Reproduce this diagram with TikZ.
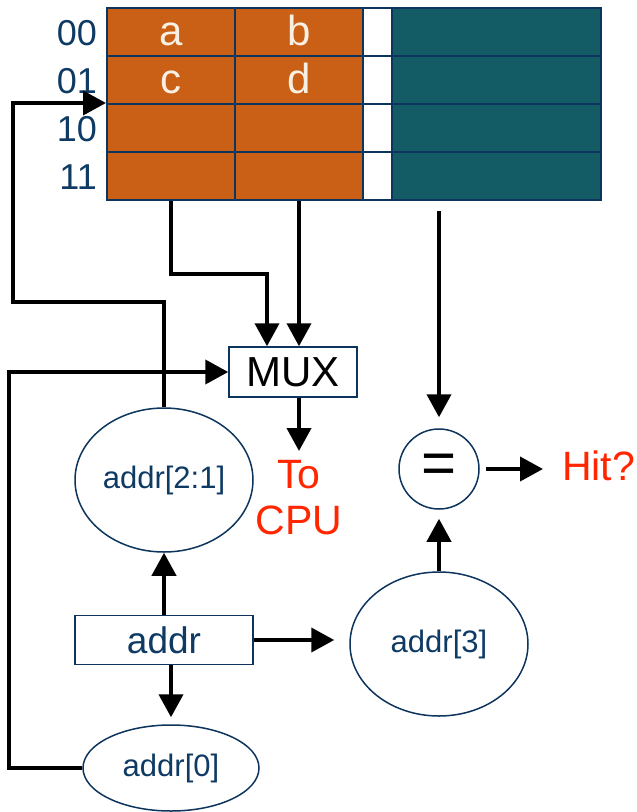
\documentclass[tikz,border=0pt]{standalone}
\usepackage{fontspec}
\setmainfont{Liberation Sans}
\usepackage{tikz}
\usetikzlibrary{shapes.geometric,arrows.meta,positioning,calc}
\definecolor{cacheorange}{RGB}{202,95,22}
\definecolor{cacheteal}{RGB}{19,92,102}
\definecolor{cachenavy}{RGB}{12,52,92}
\definecolor{cachetext}{RGB}{14,58,100}
\definecolor{cachecream}{RGB}{248,240,226}
\definecolor{cachered}{RGB}{255,38,0}

\begin{document}
\begin{tikzpicture}[x=1pt, y=-1pt,
  cell/.style={draw=cachenavy, line width=2pt, inner sep=0pt, minimum height=48pt,
    text=cachecream, font=\fontsize{42}{44}\selectfont, text height=26pt, text depth=0pt},
  rowlbl/.style={text=cachetext, inner sep=0pt, font=\fontsize{36}{40}\selectfont},
  ovalnode/.style={ellipse, draw=cachenavy, line width=1.5pt, inner sep=0pt,
    text=cachetext, font=\fontsize{31}{34}\selectfont},
  boxnode/.style={rectangle, draw=cachenavy, line width=1.5pt, inner sep=0pt},
  redtxt/.style={text=cachered, inner sep=0pt, font=\fontsize{41}{46}\selectfont},
  wire/.style={line width=4pt, -{Triangle[length=23pt,width=24pt]}}]
\useasboundingbox (0,0) rectangle (637,812);

% Cache table: two data columns, valid bit, tag
\foreach \r/\y/\p/\q in {1/32/a/b, 2/80/c/d, 3/128/{}/{}, 4/176/{}/{}} {
    \node[cell, fill=cacheorange, minimum width=128pt] (c-\r-1) at (171,\y) {\p};
    \node[cell, fill=cacheorange, minimum width=128pt] (c-\r-2) at (299,\y) {\q};
    \node[cell, fill=white, minimum width=29pt] (c-\r-3) at (377.5,\y) {};
    \node[cell, fill=cacheteal, minimum width=209pt] (c-\r-4) at (496.5,\y) {};
}

% Index labels
\foreach \r/\y/\t in {1/45/00, 2/93/01, 3/141/10, 4/189/11} {
    \node[rowlbl, anchor=base east] (lbl-\r) at (97,\y) {\t};
}

% Blocks
\node[boxnode, minimum width=128pt, minimum height=50pt, font=\fontsize{42}{44}\selectfont] (mux) at (293,372) {MUX};
\node[ovalnode, circle, minimum size=80pt, text=black, font=\fontsize{60}{60}\selectfont] (eq) at (439,469) {=};
\node[redtxt, anchor=west] (hit) at (562,466) {Hit?};
\node[redtxt, align=center, anchor=north] (cpu) at (299,460) {To\\CPU};
\node[ovalnode, minimum width=178pt, minimum height=144pt] (a21) at (164,480) {addr[2:1]};
\node[ovalnode, minimum width=178pt, minimum height=144pt] (a3) at (439,644) {addr[3]};
\node[ovalnode, minimum width=176pt, minimum height=86pt] (a0) at (171,768) {addr[0]};
\node[boxnode, minimum width=178pt, minimum height=49pt, text=cachetext, font=\fontsize{37}{40}\selectfont] (addr) at (164,640) {addr};

% Data words into the MUX
\draw[wire] (c-4-1.south) -- ++(0,73) -| ([xshift=-26pt]mux.north);
\draw[wire] (c-4-2.south) -- (c-4-2.south |- mux.north);
\draw[wire] (cpu.north |- mux.south) -- ([yshift=9pt]cpu.north);

% Tag compare
\draw[wire, shorten <=10pt, shorten >=11pt] (eq.north |- c-4-4.south) -- (eq.north);
\draw[wire, shorten >=9pt] (a3.north) -- (eq.south);
\draw[wire, shorten <=6pt, shorten >=19pt] (eq.east) -- (eq.east -| hit.west);

% Address split
\draw[wire] (addr.north) -- (a21.south);
\draw[wire, shorten >=7pt] (a0.north |- addr.south) -- (a0.north);
\draw[wire, shorten >=15pt] (addr.east) -- (addr.east -| a3.west);

% Index and select feedback
\draw[wire] (a21.north) -- ++(0,-105) -- ++(-151,0) |- (c-3-1.north west);
\draw[wire] (a0.west) -- ++(-73,0) |- (mux.west);
\end{tikzpicture}
\end{document}
